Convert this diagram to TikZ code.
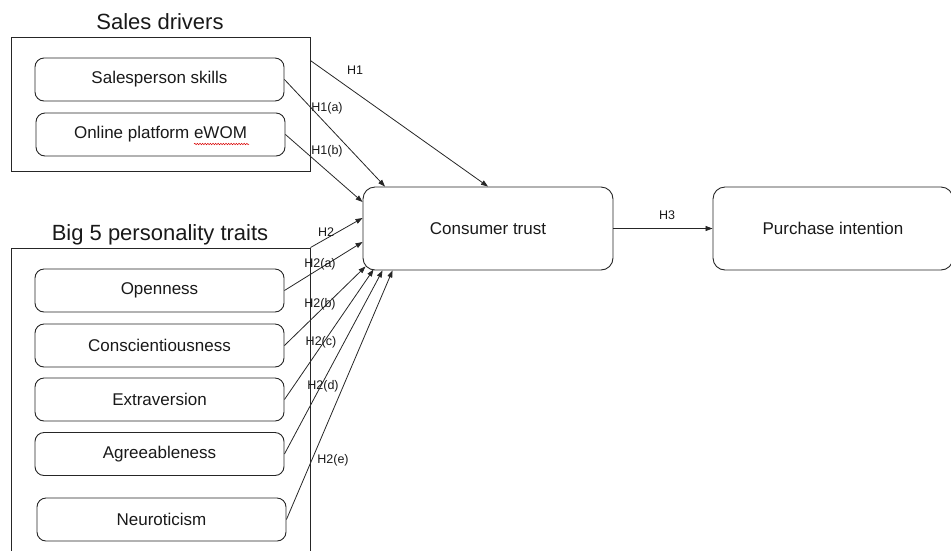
\documentclass[tikz,border=0pt]{standalone}
\usepackage{fontspec}
\setmainfont{Liberation Sans}
\usetikzlibrary{arrows.meta,decorations.pathmorphing}
\begin{document}
\begin{tikzpicture}[x=1pt,y=-1pt,
  every node/.style={text=black!90},
  grp/.style={draw=black!85, line width=0.9pt, rectangle, inner sep=0pt},
  item/.style={draw=black!85, line width=0.9pt, rounded corners=9pt, minimum width=249pt, minimum height=43pt, inner sep=0pt, font=\fontsize{17}{20}\selectfont},
  bigbox/.style={draw=black!85, line width=0.9pt, rounded corners=12pt, minimum height=83pt, inner sep=0pt, font=\fontsize{17}{20}\selectfont},
  ttl/.style={font=\fontsize{22}{26}\selectfont, inner sep=0pt},
  lbl/.style={font=\fontsize{12.5}{15}\selectfont, inner sep=0pt},
  arr/.style={draw=black!85, line width=0.8pt, -{Triangle[length=7pt,width=5pt]}}
]
\useasboundingbox (0,0) rectangle (951,550);

% group boxes
\node[grp, minimum width=299pt, minimum height=134pt] (sd) at (160.5,104) {};
\node[ttl] (sdt) at (160,22) {Sales drivers};
\node[grp, minimum width=299pt, minimum height=320pt] (b5) at (160.5,408) {};
\node[ttl] (b5t) at (160,235) {Big 5 personality traits};

% items
\node[item] (ss) at (159.5,79.5) {Salesperson skills};
\node[item] (ew) at (160.5,134.5) {Online platform eWOM};
\node[item] (op) at (159.5,290.5) {Openness};
\node[item] (co) at (159.5,345.5) {Conscientiousness};
\node[item] (ex) at (159.5,399.5) {Extraversion};
\node[item] (ag) at (159.5,454) {Agreeableness};
\node[item] (ne) at (161.5,519.5) {Neuroticism};

% spell-check underline
\draw[red!85!black, line width=0.5pt, decorate, decoration={snake, amplitude=0.7pt, segment length=2.6pt}] (194,144) -- (249,144);

% main constructs
\node[bigbox, minimum width=250pt] (ct) at (488,228.5) {Consumer trust};
\node[bigbox, minimum width=240pt] (pi) at (833,228.5) {Purchase intention};

% arrows
\draw[arr] ([yshift=-24pt]sd.north east) -- (ct.north);
\draw[arr] (ss.east) -- ([xshift=-103pt]ct.north);
\draw[arr] (ew.east) -- ([yshift=26.5pt]ct.west);
\draw[arr] (b5.north east) -- ([yshift=10.5pt]ct.west);
\draw[arr] (op.east) -- ([yshift=-13.5pt]ct.west);
\draw[arr] (co.east) -- ([xshift=3pt,yshift=4pt]ct.south west);
\draw[arr] (ex.east) -- ([xshift=11pt,yshift=1pt]ct.south west);
\draw[arr] (ag.east) -- ([xshift=20pt]ct.south west);
\draw[arr] (ne.east) -- ([xshift=30pt]ct.south west);
\draw[arr] (ct.east) -- (pi.west);

% labels
\node[lbl] (l1) at (355,70) {H1};
\node[lbl] (l1a) at (327,108) {H1(a)};
\node[lbl] (l1b) at (327,151) {H1(b)};
\node[lbl] (l2) at (326,232) {H2};
\node[lbl] (l2a) at (320,264) {H2(a)};
\node[lbl] (l2b) at (320,304) {H2(b)};
\node[lbl] (l2c) at (321,342) {H2(c)};
\node[lbl] (l2d) at (323,386) {H2(d)};
\node[lbl] (l2e) at (333,460) {H2(e)};
\node[lbl] (l3) at (667,215) {H3};
\end{tikzpicture}
\end{document}
